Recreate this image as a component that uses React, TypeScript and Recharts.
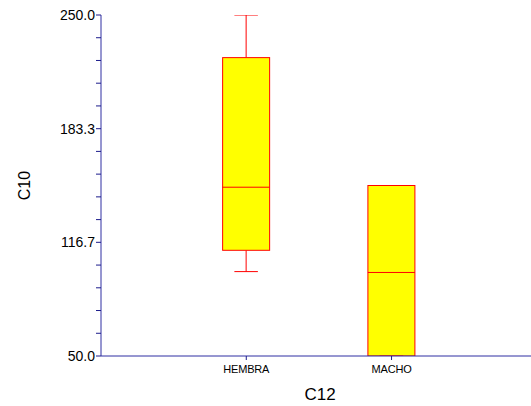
import React from 'react';
import { ComposedChart, Bar, XAxis, YAxis, Label } from 'recharts';

// Groups along the horizontal axis and their numeric positions
const categories = ['HEMBRA', 'MACHO'];
const positions = [1, 2];

// Five-number summaries of C10 per group
const minValues = [99.5, 50];
const q1Values = [112, 50];
const medianValues = [149, 99];
const q3Values = [225, 150];
const maxValues = [250, 150];

// Vertical axis ticks: labelled majors with four minor ticks between each
const yMajorTicks = [50, 116.67, 183.33, 250];
const yTicks = [
  50, 63.33, 76.67, 90, 103.33, 116.67, 130, 143.33, 156.67, 170, 183.33,
  196.67, 210, 223.33, 236.67, 250,
];

const data = categories.map((name, i) => ({
  name,
  pos: positions[i],
  min: minValues[i],
  q1: q1Values[i],
  median: medianValues[i],
  q3: q3Values[i],
  max: maxValues[i],
}));

const AXIS_COLOR = '#2e2ea2';
const TICK_COLOR = '#1c1c8c';
const BOX_FILL = '#ffff00';
const BOX_STROKE = '#ff0000';
const FONT = '"Liberation Sans", Arial, sans-serif';

// Draws one box with whiskers; the bar spans q1..q3 and the other
// values are mapped with the same linear scale as that span.
const BoxShape = (props: any) => {
  const { x, y, width, height, payload } = props;
  if (!payload) return null;
  const top = Math.min(y, y + height);
  const h = Math.abs(height);
  const { min, q1, median, q3, max } = payload;
  const perUnit = h / (q3 - q1);
  const toY = (v: number) => top + (q3 - v) * perUnit;
  const cx = x + width / 2;
  const capHalf = width / 4;
  const yMax = toY(max);
  const yMin = toY(min);
  const yMed = toY(median);
  const yQ1 = toY(q1);
  return (
    <g>
      {max > q3 && (
        <line x1={cx} x2={cx} y1={yMax} y2={top} stroke={BOX_STROKE} strokeWidth={1} />
      )}
      {min < q1 && (
        <line x1={cx} x2={cx} y1={yQ1} y2={yMin} stroke={BOX_STROKE} strokeWidth={1} />
      )}
      <rect x={x} y={top} width={width} height={h} fill={BOX_FILL} stroke={BOX_STROKE} strokeWidth={1} />
      <line x1={x} x2={x + width} y1={yMed} y2={yMed} stroke={BOX_STROKE} strokeWidth={1} />
      <line x1={cx - capHalf} x2={cx + capHalf} y1={yMax} y2={yMax} stroke={BOX_STROKE} strokeWidth={1} />
      <line x1={cx - capHalf} x2={cx + capHalf} y1={yMin} y2={yMin} stroke={BOX_STROKE} strokeWidth={1} />
    </g>
  );
};

const YTitle = (props: any) => {
  const vb = props.viewBox || { x: 0, y: 0, width: 0, height: 0 };
  const cx = vb.x + 24;
  const cy = vb.y + vb.height / 2;
  return (
    <text
      x={cx}
      y={cy}
      transform={`rotate(-90, ${cx}, ${cy})`}
      textAnchor="middle"
      dominantBaseline="central"
      fontSize={16}
      fontFamily={FONT}
      fill="#000"
    >
      C10
    </text>
  );
};

const XTitle = (props: any) => {
  const vb = props.viewBox || { x: 0, y: 0, width: 0, height: 0 };
  return (
    <text
      x={vb.x + vb.width / 2 + 4}
      y={vb.y + 44}
      textAnchor="middle"
      fontSize={17}
      fontFamily={FONT}
      fill="#000"
    >
      C12
    </text>
  );
};

export default function App() {
  const majorSet = new Set(yMajorTicks);
  return (
    <div style={{ position: 'absolute', left: 0, top: 0, width: 531, height: 406 }}>
      <ComposedChart
        width={531}
        height={406}
        data={data}
        margin={{ top: 15, right: 0, bottom: 0, left: 0 }}
      >
        <XAxis
          dataKey="pos"
          type="number"
          domain={[0, 2.96]}
          ticks={positions}
          interval={0}
          tickFormatter={(v: number) => categories[positions.indexOf(v)] ?? ''}
          height={50}
          axisLine={{ stroke: AXIS_COLOR }}
          tickLine={{ stroke: TICK_COLOR }}
          tickSize={4}
          tickMargin={5}
          tick={{ fontSize: 11, fontFamily: FONT, fill: '#000', letterSpacing: -0.2 }}
        >
          <Label content={<XTitle />} />
        </XAxis>
        <YAxis
          type="number"
          domain={[50, 250]}
          ticks={yTicks}
          interval={0}
          allowDataOverflow
          width={101}
          tickFormatter={(v: number) => (majorSet.has(v) ? v.toFixed(1) : '')}
          axisLine={{ stroke: AXIS_COLOR }}
          tickLine={{ stroke: TICK_COLOR }}
          tickSize={5}
          tickMargin={1}
          tick={{ fontSize: 14, fontFamily: FONT, fill: '#000' }}
        >
          <Label content={<YTitle />} />
        </YAxis>
        <Bar
          dataKey={(d: any) => [d.q1, d.q3]}
          barSize={47}
          shape={<BoxShape />}
          isAnimationActive={false}
        />
      </ComposedChart>
    </div>
  );
}
